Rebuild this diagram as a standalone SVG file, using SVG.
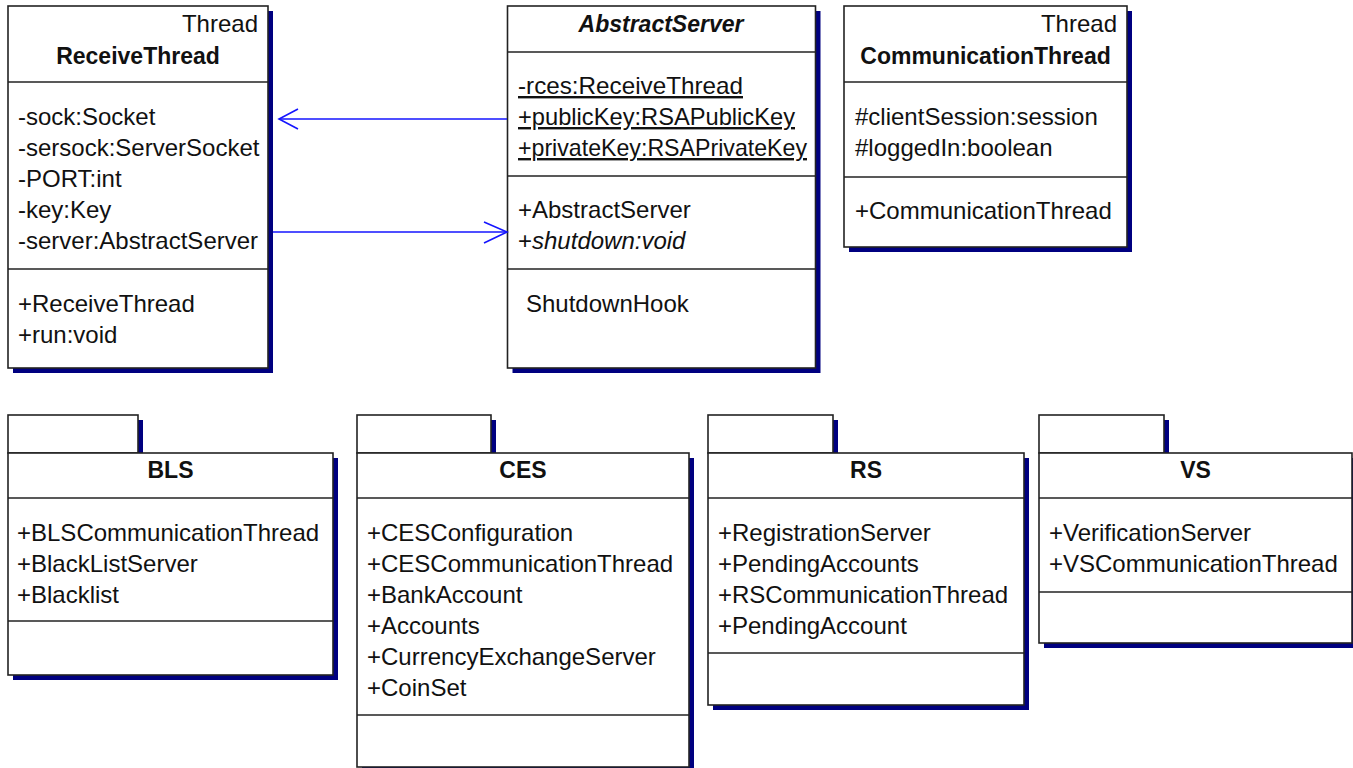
<svg xmlns="http://www.w3.org/2000/svg" width="1353" height="768" viewBox="0 0 1353 768">
  <style>
    .shadow { fill: #000080; stroke: none; }
    .box { fill: #ffffff; stroke: #222222; stroke-width: 1.6; }
    .div { stroke: #222222; stroke-width: 1.6; fill: none; }
    text { font-family: "Liberation Sans", Arial, sans-serif; font-size: 24px; fill: #111111; }
    .name { font-weight: bold; font-size: 23px; text-anchor: middle; }
    .stereo { text-anchor: end; }
    .static { text-decoration: underline; }
    .abstract { font-style: italic; }
    .conn { stroke: #1414ff; stroke-width: 1.6; fill: none; }
  </style>

  <!-- class ReceiveThread extends Thread -->
  <g id="ReceiveThread">
    <rect class="shadow" x="13" y="11" width="260" height="362"/>
    <rect class="box" x="8" y="6" width="260" height="362"/>
    <line class="div" x1="8" y1="82" x2="268" y2="82"/>
    <line class="div" x1="8" y1="269" x2="268" y2="269"/>
    <text class="stereo" x="258" y="32">Thread</text>
    <text class="name" x="138" y="64">ReceiveThread</text>
    <text x="18" y="125">-sock:Socket</text>
    <text x="18" y="156">-sersock:ServerSocket</text>
    <text x="18" y="187">-PORT:int</text>
    <text x="18" y="218">-key:Key</text>
    <text x="18" y="249">-server:AbstractServer</text>
    <text x="18" y="312">+ReceiveThread</text>
    <text x="18" y="343">+run:void</text>
  </g>

  <!-- abstract class AbstractServer -->
  <g id="AbstractServer">
    <rect class="shadow" x="512.5" y="11" width="308" height="362"/>
    <rect class="box" x="507.5" y="6" width="308" height="362"/>
    <line class="div" x1="507.5" y1="52" x2="815.5" y2="52"/>
    <line class="div" x1="507.5" y1="176" x2="815.5" y2="176"/>
    <line class="div" x1="507.5" y1="269" x2="815.5" y2="269"/>
    <text class="name abstract" x="661" y="32">AbstractServer</text>
    <text class="static" x="518" y="94" textLength="225" lengthAdjust="spacingAndGlyphs">-rces:ReceiveThread</text>
    <text class="static" x="518" y="125" textLength="277" lengthAdjust="spacingAndGlyphs">+publicKey:RSAPublicKey</text>
    <text class="static" x="518" y="156" textLength="289" lengthAdjust="spacingAndGlyphs">+privateKey:RSAPrivateKey</text>
    <text x="518" y="218">+AbstractServer</text>
    <text x="518" y="249">+<tspan class="abstract">shutdown:void</tspan></text>
    <text x="526" y="312">ShutdownHook</text>
  </g>

  <!-- class CommunicationThread extends Thread -->
  <g id="CommunicationThread">
    <rect class="shadow" x="849" y="11" width="283" height="241"/>
    <rect class="box" x="844" y="6" width="283" height="241"/>
    <line class="div" x1="844" y1="82" x2="1127" y2="82"/>
    <line class="div" x1="844" y1="177" x2="1127" y2="177"/>
    <text class="stereo" x="1117" y="32">Thread</text>
    <text class="name" x="985.5" y="64">CommunicationThread</text>
    <text x="855" y="125">#clientSession:session</text>
    <text x="855" y="156">#loggedIn:boolean</text>
    <text x="855" y="219">+CommunicationThread</text>
  </g>

  <!-- package BLS -->
  <g id="BLS">
    <rect class="shadow" x="13" y="420" width="130" height="38"/>
    <rect class="shadow" x="13" y="458" width="325" height="222"/>
    <rect class="box" x="8" y="415" width="130" height="38"/>
    <rect class="box" x="8" y="453" width="325" height="222"/>
    <line class="div" x1="8" y1="498" x2="333" y2="498"/>
    <line class="div" x1="8" y1="621" x2="333" y2="621"/>
    <text class="name" x="170.5" y="478">BLS</text>
    <text x="17" y="541">+BLSCommunicationThread</text>
    <text x="17" y="572">+BlackListServer</text>
    <text x="17" y="603">+Blacklist</text>
  </g>

  <!-- package CES -->
  <g id="CES">
    <rect class="shadow" x="362" y="420" width="134" height="38"/>
    <rect class="shadow" x="362" y="458" width="332" height="314"/>
    <rect class="box" x="357" y="415" width="134" height="38"/>
    <rect class="box" x="357" y="453" width="332" height="314"/>
    <line class="div" x1="357" y1="498" x2="689" y2="498"/>
    <line class="div" x1="357" y1="715" x2="689" y2="715"/>
    <text class="name" x="523" y="478">CES</text>
    <text x="367" y="541">+CESConfiguration</text>
    <text x="367" y="572">+CESCommunicationThread</text>
    <text x="367" y="603">+BankAccount</text>
    <text x="367" y="634">+Accounts</text>
    <text x="367" y="665">+CurrencyExchangeServer</text>
    <text x="367" y="696">+CoinSet</text>
  </g>

  <!-- package RS -->
  <g id="RS">
    <rect class="shadow" x="713" y="420" width="125" height="38"/>
    <rect class="shadow" x="713" y="458" width="316" height="252"/>
    <rect class="box" x="708" y="415" width="125" height="38"/>
    <rect class="box" x="708" y="453" width="316" height="252"/>
    <line class="div" x1="708" y1="498" x2="1024" y2="498"/>
    <line class="div" x1="708" y1="653" x2="1024" y2="653"/>
    <text class="name" x="866" y="478">RS</text>
    <text x="718" y="541">+RegistrationServer</text>
    <text x="718" y="572">+PendingAccounts</text>
    <text x="718" y="603">+RSCommunicationThread</text>
    <text x="718" y="634">+PendingAccount</text>
  </g>

  <!-- package VS -->
  <g id="VS">
    <rect class="shadow" x="1044" y="420" width="125" height="38"/>
    <rect class="shadow" x="1044" y="458" width="313" height="190"/>
    <rect class="box" x="1039" y="415" width="125" height="38"/>
    <rect class="box" x="1039" y="453" width="313" height="190"/>
    <line class="div" x1="1039" y1="498" x2="1352" y2="498"/>
    <line class="div" x1="1039" y1="592" x2="1352" y2="592"/>
    <text class="name" x="1195.5" y="478">VS</text>
    <text x="1049" y="541">+VerificationServer</text>
    <text x="1049" y="572">+VSCommunicationThread</text>
  </g>

  <!-- navigable associations with open arrowheads -->
  <g id="connectors">
    <line class="conn" x1="507" y1="119" x2="279" y2="119"/>
    <polyline class="conn" points="298,109 279,119 298,129"/>
    <line class="conn" x1="273" y1="232" x2="507" y2="232"/>
    <polyline class="conn" points="484,222 507,232 484,243"/>
  </g>
</svg>
